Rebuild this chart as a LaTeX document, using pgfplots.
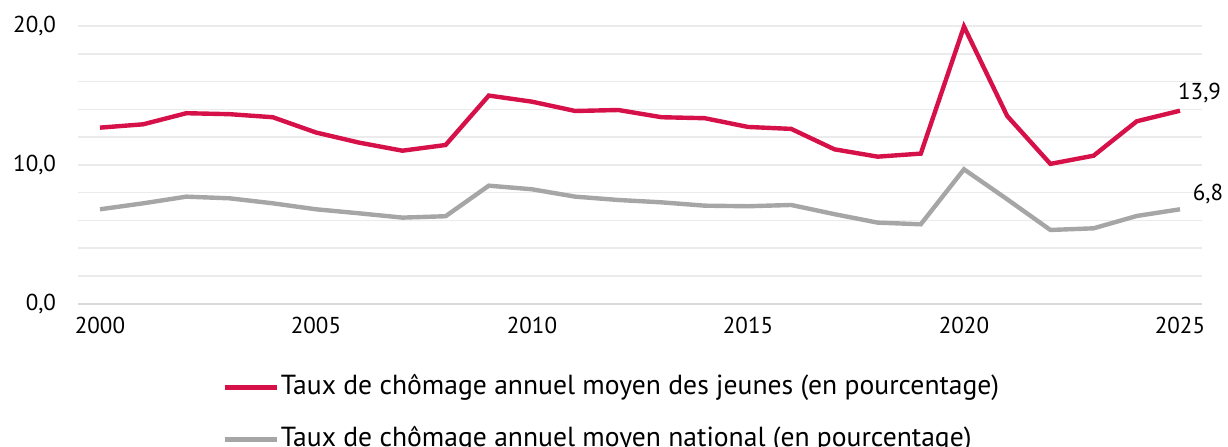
\documentclass[border=0pt]{standalone}
\usepackage{pgfplots}
\pgfplotsset{compat=1.18}
\usepackage{fontspec}
\setmainfont{PT Sans}
\definecolor{jred}{HTML}{D6114A}
\definecolor{ngray}{HTML}{A6A6A6}
\definecolor{gridc}{HTML}{EBEBEB}
\definecolor{basec}{HTML}{D9D9D9}
\begin{document}
\begin{tikzpicture}[font=\fontsize{11.5pt}{13pt}\selectfont]
\begin{axis}[
  at={(0,0)}, anchor=origin,
  scale only axis, width=561.6pt, height=138.85pt,
  xmin=1999.5, xmax=2025.5, ymin=0, ymax=20,
  clip=false,
  axis line style={draw=none},
  tick style={draw=none},
  xtick={2000,2005,...,2025},
  xticklabel style={yshift=-3pt},
  x tick label style={/pgf/number format/1000 sep={}},
  ytick={0,10,20},
  minor ytick={2,4,6,8,12,14,16,18},
  extra y ticks={0},
  extra y tick labels={},
  extra y tick style={major grid style={draw=basec, line width=0.9pt}},
  ymajorgrids, yminorgrids,
  major grid style={draw=gridc, line width=0.8pt},
  minor grid style={draw=gridc, line width=0.8pt},
  yticklabel style={anchor=east, inner sep=0pt, xshift=-11pt},
  y tick label style={/pgf/number format/fixed, /pgf/number format/fixed zerofill, /pgf/number format/precision=1, /pgf/number format/use comma},
  /pgf/number format/assume math mode=true,
  legend style={at={(71.8pt,-34.15pt)}, anchor=north west, draw=none, fill=none,
    legend cell align=left, row sep=11pt, inner sep=0pt,
    font=\fontsize{13.8pt}{16pt}\selectfont,
    nodes={inner sep=1pt, text height=10pt, text depth=3pt}},
  legend image code/.code={\draw[#1, line width=2.2pt] (0pt,0pt) -- (26pt,0pt);},
]
\addplot[jred, line width=2.2pt] coordinates {
(2000,12.68)(2001,12.92)(2002,13.72)(2003,13.65)(2004,13.43)(2005,12.33)
(2006,11.6)(2007,11.02)(2008,11.43)(2009,14.99)(2010,14.55)(2011,13.88)
(2012,13.95)(2013,13.43)(2014,13.36)(2015,12.73)(2016,12.59)(2017,11.12)
(2018,10.59)(2019,10.81)(2020,19.96)(2021,13.52)(2022,10.07)(2023,10.66)
(2024,13.14)(2025,13.9)} node[pos=1, anchor=base west, inner sep=0pt, xshift=-2pt, yshift=5.5pt, text=black] {13,9};
\addlegendentry{Taux de chômage annuel moyen des jeunes (en pourcentage)}
\addplot[ngray, line width=2.2pt] coordinates {
(2000,6.8)(2001,7.23)(2002,7.71)(2003,7.59)(2004,7.23)(2005,6.8)
(2006,6.51)(2007,6.2)(2008,6.3)(2009,8.5)(2010,8.24)(2011,7.71)
(2012,7.47)(2013,7.3)(2014,7.06)(2015,7.02)(2016,7.11)(2017,6.45)
(2018,5.84)(2019,5.72)(2020,9.68)(2021,7.52)(2022,5.31)(2023,5.43)
(2024,6.32)(2025,6.8)} node[pos=1, anchor=base west, inner sep=0pt, xshift=5.3pt, yshift=4.5pt, text=black] {6,8};
\addlegendentry{Taux de chômage annuel moyen national (en pourcentage)}
\end{axis}
\pgfresetboundingbox
\useasboundingbox (-39.2pt,-71.15pt) rectangle (574.8pt,151.85pt);
\end{tikzpicture}
\end{document}
